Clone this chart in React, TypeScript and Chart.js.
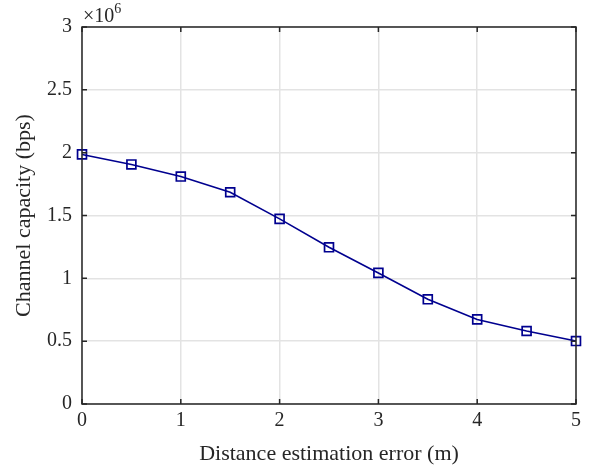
import React, { useEffect, useRef } from "react";
import { Chart, registerables } from "chart.js";

Chart.register(...registerables);

const distanceError = [0, 0.5, 1, 1.5, 2, 2.5, 3, 3.5, 4, 4.5, 5];
const capacity = [1.986e6, 1.906e6, 1.81e6, 1.685e6, 1.473e6, 1.247e6, 1.043e6, 0.833e6, 0.673e6, 0.581e6, 0.501e6];
const xTicks = [0, 1, 2, 3, 4, 5];
const yTicks = [0, 0.5e6, 1e6, 1.5e6, 2e6, 2.5e6, 3e6];

const FONT = "'Liberation Serif', 'Times New Roman', serif";
const AXIS_COLOR = "#262626";

const boxPlugin = {
  id: "matlabBox",
  afterDraw(chart: any) {
    const { ctx, chartArea } = chart;
    const { left, right, top, bottom } = chartArea;
    const xs = chart.scales.x;
    const ys = chart.scales.y;
    ctx.save();
    ctx.strokeStyle = AXIS_COLOR;
    ctx.lineWidth = 1.5;
    const tl = 5;
    ctx.beginPath();
    xTicks.forEach((v) => {
      const px = xs.getPixelForValue(v);
      ctx.moveTo(px, bottom);
      ctx.lineTo(px, bottom - tl);
      ctx.moveTo(px, top);
      ctx.lineTo(px, top + tl);
    });
    yTicks.forEach((v) => {
      const py = ys.getPixelForValue(v);
      ctx.moveTo(left, py);
      ctx.lineTo(left + tl, py);
      ctx.moveTo(right, py);
      ctx.lineTo(right - tl, py);
    });
    ctx.stroke();
    ctx.strokeRect(left, top, right - left, bottom - top);
    ctx.fillStyle = AXIS_COLOR;
    ctx.textBaseline = "alphabetic";
    ctx.textAlign = "left";
    ctx.font = `20px ${FONT}`;
    const baseX = left + 1;
    const baseY = top - 5;
    ctx.fillText("\u00d710", baseX, baseY);
    const w = ctx.measureText("\u00d710").width;
    ctx.font = `14px ${FONT}`;
    ctx.fillText("6", baseX + w, baseY - 9);
    ctx.restore();
  },
};

export default function App() {
  const ref = useRef<HTMLCanvasElement | null>(null);
  useEffect(() => {
    document.body.style.margin = "0";
    const canvas = ref.current;
    if (!canvas) return;
    const chart = new Chart(canvas, {
      type: "line",
      data: {
        datasets: [
          {
            data: distanceError.map((x, i) => ({ x, y: capacity[i] })),
            borderColor: "#00008f",
            backgroundColor: "rgba(0,0,0,0)",
            borderWidth: 1.6,
            pointStyle: "rect",
            pointRadius: 6.3,
            pointBorderWidth: 1.7,
            pointBorderColor: "#00008f",
            pointBackgroundColor: "rgba(0,0,0,0)",
            tension: 0,
            clip: false as any,
          },
        ],
      },
      options: {
        animation: false,
        responsive: false,
        maintainAspectRatio: false,
        layout: { padding: { top: 27, right: 21, left: 0, bottom: 0 } },
        plugins: { legend: { display: false }, tooltip: { enabled: false } },
        scales: {
          x: {
            type: "linear",
            min: 0,
            max: 5,
            afterBuildTicks: (s: any) => {
              s.ticks = xTicks.map((v) => ({ value: v }));
            },
            afterFit: (s: any) => {
              s.height = 66;
            },
            ticks: {
              color: AXIS_COLOR,
              font: { family: FONT, size: 20 },
              padding: 5,
              maxRotation: 0,
            },
            grid: { color: "#e3e3e3", lineWidth: 1.5, drawTicks: false },
            border: { display: false },
            title: {
              display: true,
              text: "Distance estimation error (m)",
              color: AXIS_COLOR,
              font: { family: FONT, size: 22 },
              padding: { top: 0, bottom: 3 },
            },
          },
          y: {
            type: "linear",
            min: 0,
            max: 3e6,
            afterBuildTicks: (s: any) => {
              s.ticks = yTicks.map((v) => ({ value: v }));
            },
            afterFit: (s: any) => {
              s.width = 82;
            },
            ticks: {
              color: AXIS_COLOR,
              font: { family: FONT, size: 20 },
              padding: 10,
              callback: (v: any) => String(Number(v) / 1e6),
            },
            grid: { color: "#e3e3e3", lineWidth: 1.5, drawTicks: false },
            border: { display: false },
            title: {
              display: true,
              text: "Channel capacity (bps)",
              color: AXIS_COLOR,
              font: { family: FONT, size: 22 },
              padding: { top: 11, bottom: 0 },
            },
          },
        },
      },
      plugins: [boxPlugin],
    });
    return () => chart.destroy();
  }, []);
  return (
    <div style={{ position: "fixed", left: 0, top: 0, width: 597, height: 470, background: "#fff" }}>
      <canvas ref={ref} width={597} height={470} style={{ width: 597, height: 470 }} />
    </div>
  );
}
